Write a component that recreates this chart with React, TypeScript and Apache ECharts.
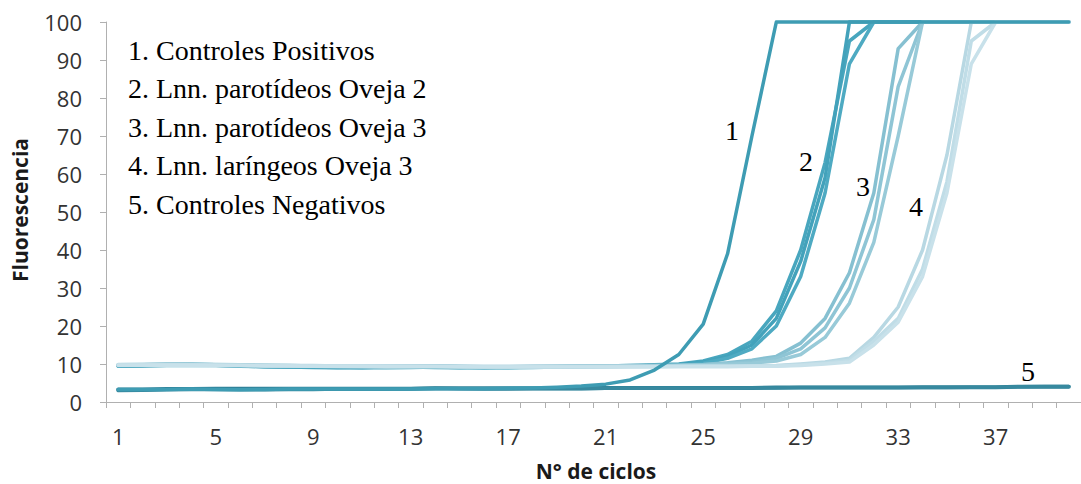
import React, { useEffect, useRef } from "react";
import * as echarts from "echarts";

const cycles = ["1","2","3","4","5","6","7","8","9","10","11","12","13","14","15","16","17","18","19","20","21","22","23","24","25","26","27","28","29","30","31","32","33","34","35","36","37","38","39","40"];

const legendLines = [
  "1. Controles Positivos",
  "2. Lnn. parotídeos Oveja 2",
  "3. Lnn. parotídeos Oveja 3",
  "4. Lnn. laríngeos Oveja 3",
  "5. Controles Negativos",
];

const positivo = [3.3,3.3,3.3,3.4,3.3,3.2,3.3,3.4,3.4,3.4, 3.4,3.4,3.4,3.5,3.5,3.5,3.6,3.7,3.9,4.2, 4.7,5.8,8.4,12.5,20.5,39,70,100,100,100, 100,100,100,100,100,100,100,100,100,100];

const negativoA = [3.3,3.3,3.4,3.4,3.5,3.5,3.5,3.5,3.5,3.5, 3.5,3.5,3.5,3.6,3.6,3.6,3.6,3.6,3.6,3.6, 3.7,3.7,3.7,3.7,3.7,3.7,3.7,3.8,3.8,3.8, 3.8,3.8,3.8,3.9,3.9,3.9,3.9,4.0,4.0,4.0];
const negativoB = [3.0,3.1,3.2,3.3,3.3,3.2,3.2,3.3,3.3,3.4, 3.4,3.4,3.5,3.6,3.5,3.4,3.4,3.5,3.5,3.5, 3.6,3.6,3.6,3.6,3.6,3.6,3.7,3.7,3.8,3.8, 3.8,3.8,3.8,3.8,3.8,3.9,3.9,4.0,4.1,4.1];

const oveja2A = [9.6,9.8,9.9,9.9,9.8,9.6,9.4,9.3,9.2,9.2, 9.1,9.2,9.3,9.3,9.2,9.0,9.1,9.2,9.3,9.4, 9.5,9.6,9.8,10.0,10.8,12.5,16,24,40,63, 95,100,100,100,100,100,100,100,100,100];
const oveja2B = [9.4,9.5,9.7,9.8,9.7,9.5,9.3,9.2,9.1,9.0, 9.1,9.2,9.2,9.1,9.0,9.1,9.2,9.2,9.3,9.3, 9.4,9.5,9.6,9.8,10.5,12,15,22,37,59, 100,100,100,100,100,100,100,100,100,100];
const oveja2C = [9.5,9.6,9.6,9.7,9.6,9.4,9.3,9.2,9.2,9.1, 9.0,9.0,9.1,9.2,9.1,9.1,9.0,9.1,9.2,9.3, 9.3,9.4,9.5,9.6,10.2,11.5,14,20,33,55, 89,100,100,100,100,100,100,100,100,100];

const oveja3A = [9.8,9.9,10.0,10.0,9.9,9.8,9.7,9.6,9.5,9.5, 9.4,9.4,9.5,9.5,9.4,9.3,9.3,9.4,9.4,9.5, 9.5,9.6,9.6,9.7,9.9,10.3,11,12,15.5,22, 34,55,93,100,100,100,100,100,100,100];
const oveja3B = [9.6,9.7,9.8,9.8,9.7,9.6,9.5,9.4,9.4,9.3, 9.3,9.3,9.4,9.4,9.3,9.2,9.3,9.3,9.4,9.4, 9.5,9.5,9.6,9.6,9.8,10.1,10.5,11.5,14,19.5, 30,48,83,100,100,100,100,100,100,100];
const oveja3C = [9.7,9.8,9.8,9.9,9.8,9.7,9.6,9.5,9.4,9.4, 9.3,9.3,9.3,9.4,9.3,9.3,9.2,9.3,9.3,9.4, 9.4,9.5,9.5,9.6,9.7,9.9,10.2,10.8,12.5,17, 26,42,70,100,100,100,100,100,100,100];

const laringeoA = [9.9,9.9,9.9,9.8,9.8,9.7,9.7,9.6,9.6,9.5, 9.5,9.5,9.5,9.4,9.4,9.4,9.4,9.4,9.4,9.4, 9.4,9.4,9.4,9.4,9.5,9.5,9.5,9.6,10,10.5, 11.5,17,25,40,65,100,100,100,100,100];
const laringeoB = [9.8,9.8,9.8,9.8,9.7,9.7,9.6,9.6,9.5,9.5, 9.4,9.4,9.4,9.4,9.3,9.3,9.3,9.3,9.3,9.3, 9.3,9.3,9.3,9.4,9.4,9.4,9.5,9.5,9.8,10.2, 11,16,22,35,58,95,100,100,100,100];
const laringeoC = [9.7,9.7,9.7,9.7,9.6,9.6,9.5,9.5,9.4,9.4, 9.4,9.3,9.3,9.3,9.3,9.2,9.2,9.2,9.2,9.2, 9.2,9.2,9.3,9.3,9.3,9.3,9.4,9.4,9.6,10, 10.5,15,21,33,55,89,100,100,100,100];

const curveLabels = ["1", "2", "3", "4", "5"];

const SERIF = "'Liberation Serif', 'Times New Roman', serif";
const SANS = "'Open Sans', 'Liberation Sans', sans-serif";

function line(name: string, data: number[], color: string, width: number) {
  return {
    name,
    type: "line",
    data,
    symbol: "none",
    smooth: false,
    clip: false,
    lineStyle: { color, width, cap: "round", join: "round" },
    emphasis: { disabled: true },
  };
}

export default function App() {
  const ref = useRef<HTMLDivElement>(null);
  useEffect(() => {
    if (!ref.current) return;
    const chart = echarts.init(ref.current, null, { renderer: "svg" });
    const legendY = [50, 88.5, 127, 165.5, 204];
    const labelPos = [
      [732, 130],
      [806, 161],
      [863, 186],
      [916, 206],
      [1028, 371],
    ];
    const graphic: any[] = [];
    legendLines.forEach((t, i) => {
      graphic.push({
        type: "text",
        x: 128,
        y: legendY[i],
        style: {
          text: t,
          font: `28px ${SERIF}`,
          fill: "#000",
          align: "left",
          verticalAlign: "middle",
        },
      });
    });
    curveLabels.forEach((t, i) => {
      graphic.push({
        type: "text",
        x: labelPos[i][0],
        y: labelPos[i][1],
        style: {
          text: t,
          font: `28px ${SERIF}`,
          fill: "#000",
          align: "center",
          verticalAlign: "middle",
        },
      });
    });
    graphic.push({
      type: "text",
      x: 20,
      y: 210,
      rotation: Math.PI / 2,
      style: {
        text: "Fluorescencia",
        font: `bold 21px ${SANS}`,
        fill: "#1a1a1a",
        align: "center",
        verticalAlign: "middle",
      },
    });
    graphic.push({
      type: "text",
      x: 596,
      y: 471,
      style: {
        text: "N° de ciclos",
        font: `bold 21px ${SANS}`,
        lineHeight: 22,
        fill: "#1a1a1a",
        align: "center",
        verticalAlign: "middle",
      },
    });

    chart.setOption({
      animation: false,
      grid: { left: 106, top: 22, bottom: 82, right: -7, containLabel: false },
      xAxis: {
        type: "category",
        data: cycles,
        boundaryGap: true,
        axisLine: { lineStyle: { color: "#b0b0b0", width: 1 } },
        axisTick: { show: true, interval: 0, length: 6, lineStyle: { color: "#b0b0b0" } },
        axisLabel: {
          interval: 3,
          margin: 23,
          fontSize: 22,
          fontFamily: SANS,
          color: "#333",
        },
        splitLine: { show: false },
      },
      yAxis: {
        type: "value",
        min: 0,
        max: 100,
        interval: 10,
        axisLine: { show: true, lineStyle: { color: "#b0b0b0", width: 1 } },
        axisTick: { show: true, length: 6, lineStyle: { color: "#b0b0b0" } },
        axisLabel: {
          margin: 24,
          fontSize: 22,
          fontFamily: SANS,
          color: "#333",
        },
        splitLine: { show: false },
      },
      series: [
        line("Controles Negativos A", negativoA, "#2f8198", 4),
        line("Controles Negativos B", negativoB, "#37899f", 3.5),
        line("Lnn. parotídeos Oveja 2 A", oveja2A, "#48a6be", 3.5),
        line("Lnn. parotídeos Oveja 2 B", oveja2B, "#43a2bb", 3.5),
        line("Lnn. parotídeos Oveja 2 C", oveja2C, "#4eaac2", 3.5),
        line("Lnn. parotídeos Oveja 3 A", oveja3A, "#86c0d1", 3.5),
        line("Lnn. parotídeos Oveja 3 B", oveja3B, "#8fc5d5", 3.5),
        line("Lnn. parotídeos Oveja 3 C", oveja3C, "#98cad8", 3.5),
        line("Lnn. laríngeos Oveja 3 A", laringeoA, "#b8d8e3", 3.5),
        line("Lnn. laríngeos Oveja 3 B", laringeoB, "#c0dde7", 3.5),
        line("Lnn. laríngeos Oveja 3 C", laringeoC, "#c8e1ea", 3.5),
        line("Controles Positivos", positivo, "#3e9cb3", 3.5),
      ],
      graphic,
    });
    return () => chart.dispose();
  }, []);
  return (
    <div
      ref={ref}
      style={{ position: "fixed", left: 0, top: 0, width: 1081, height: 484, background: "#fff" }}
    />
  );
}
